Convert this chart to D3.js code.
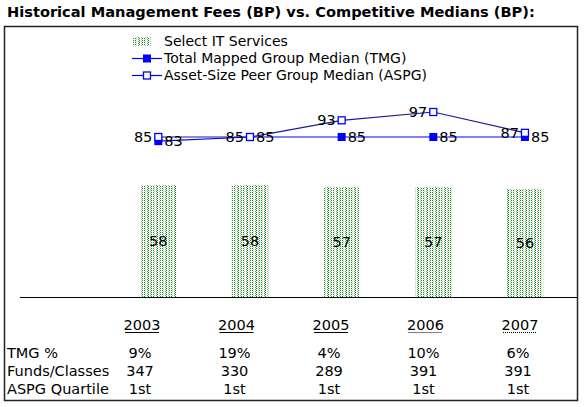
<!DOCTYPE html>
<html><head><meta charset="utf-8">
<script src="https://cdn.jsdelivr.net/npm/d3@7"></script>
<style>body{margin:0;background:#fff}svg{display:block}text{font-family:"DejaVu Sans",Verdana,sans-serif}</style>
</head><body><svg id="c" width="584" height="407"></svg>
<script>
const years = ["2003","2004","2005","2006","2007"];
const selectIT = [58,58,57,57,56];
const tmg = [83,85,85,85,85];
const aspg = [85,85,93,97,87];
const tmgPct = ["9%","19%","4%","10%","6%"];
const funds = ["347","330","289","391","391"];
const quartile = ["1st","1st","1st","1st","1st"];
const rowLabels = ["TMG %","Funds/Classes","ASPG Quartile"];
const seriesNames = ["Select IT Services","Total Mapped Group Median (TMG)","Asset-Size Peer Group Median (ASPG)"];
const title = "Historical Management Fees (BP) vs. Competitive Medians (BP):";

const svg = d3.select("#c");
const defs = svg.append("defs");
const pat = defs.append("pattern").attr("id","pat").attr("patternUnits","userSpaceOnUse")
  .attr("width",9).attr("height",4);
const cols = [["#0a8a0a",0,0],["#c8c8c8",1,1],["#40b040",3,1],["#087808",4,0],["#b0b0b0",6,1],["#1a9a1a",7,0]];
cols.forEach(([c,x,o])=>{
  pat.append("rect").attr("x",x).attr("y",o).attr("width",1).attr("height",1).attr("fill",c);
  pat.append("rect").attr("x",x).attr("y",o+2).attr("width",1).attr("height",1).attr("fill",c);
});

svg.append("text").attr("x",7).attr("y",17).attr("font-weight","bold").attr("font-size",14.6).text(title);
svg.append("rect").attr("x",4.5).attr("y",26.5).attr("width",573).attr("height",374)
  .attr("fill","none").attr("stroke","#222").attr("stroke-width",1.5);

const x = d3.scaleBand().domain(years).range([112.5,570.8]).paddingInner(0.6).paddingOuter(0.3);
const yBar = d3.scaleLinear().domain([0,58]).range([297,185]);
const yLine = d3.scaleLinear().domain([85,97]).range([137,112]);
const xt = d3.scalePoint().domain(years).range([142,520]);

// bars
const bars = svg.append("g");
bars.selectAll("rect").data(years).join("rect")
  .attr("x",d=>x(d)).attr("width",x.bandwidth())
  .attr("y",(d,i)=>yBar(selectIT[i])).attr("height",(d,i)=>yBar(0)-yBar(selectIT[i]))
  .attr("fill","url(#pat)");
bars.selectAll("text").data(years).join("text")
  .attr("x",d=>x(d)+x.bandwidth()/2).attr("y",(d,i)=>(yBar(selectIT[i])+yBar(0))/2+5)
  .attr("text-anchor","middle").attr("font-size",14.5).text((d,i)=>selectIT[i]);

svg.append("line").attr("x1",20).attr("x2",577).attr("y1",297.5).attr("y2",297.5).attr("stroke","#000");

const cx = d=>x(d)+x.bandwidth()/2;
// lines
const lineA = d3.line().x((d,i)=>cx(years[i])).y(d=>yLine(d));
svg.append("path").attr("d",lineA(aspg)).attr("fill","none").attr("stroke","#1a1a9a").attr("stroke-width",1.2);
svg.append("path").attr("d",lineA(tmg)).attr("fill","none").attr("stroke","#0000ff").attr("stroke-width",1.2);
svg.append("g").selectAll("rect").data(tmg).join("rect")
  .attr("x",(d,i)=>cx(years[i])-4).attr("y",d=>yLine(d)-4).attr("width",8).attr("height",8).attr("fill","#0000ff");
svg.append("g").selectAll("rect").data(aspg).join("rect")
  .attr("x",(d,i)=>cx(years[i])-3.5).attr("y",d=>yLine(d)-3.5).attr("width",7).attr("height",7)
  .attr("fill","#fff").attr("stroke","#0000ff").attr("stroke-width",1.3);
svg.append("g").selectAll("text").data(aspg).join("text")
  .attr("x",(d,i)=>cx(years[i])-6).attr("y",d=>yLine(d)+5).attr("text-anchor","end").attr("font-size",14.5).text(d=>d);
svg.append("g").selectAll("text").data(tmg).join("text")
  .attr("x",(d,i)=>cx(years[i])+6).attr("y",d=>yLine(d)+5).attr("text-anchor","start").attr("font-size",14.5).text(d=>d);

// legend
const lg = svg.append("g").attr("font-size",14);
lg.append("rect").attr("x",133).attr("y",37).attr("width",18).attr("height",9).attr("fill","url(#pat)");
[0,1,2].forEach(i=>{
  lg.append("text").attr("x",164).attr("y",46+i*17).text(seriesNames[i]);
});
lg.append("line").attr("x1",132).attr("x2",162).attr("y1",58.5).attr("y2",58.5).attr("stroke","#0000ff").attr("stroke-width",1.2);
lg.append("rect").attr("x",143).attr("y",54.5).attr("width",8).attr("height",8).attr("fill","#0000ff");
lg.append("line").attr("x1",132).attr("x2",162).attr("y1",75.5).attr("y2",75.5).attr("stroke","#0000ff").attr("stroke-width",1.2);
lg.append("rect").attr("x",143.5).attr("y",72).attr("width",7).attr("height",7).attr("fill","#fff").attr("stroke","#0000ff").attr("stroke-width",1.3);

// table
const tb = svg.append("g").attr("font-size",14.5);
tb.selectAll("text.yr").data(years).join("text").attr("class","yr")
  .attr("x",d=>xt(d)).attr("y",330).attr("text-anchor","middle").text(d=>d);
tb.selectAll("line.ul").data(years).join("line").attr("class","ul")
  .attr("x1",d=>xt(d)-17).attr("x2",d=>xt(d)+17).attr("y1",332.5).attr("y2",332.5)
  .attr("stroke","#000").attr("stroke-dasharray",(d,i)=>i>2?"1,1":null);
const rows = [tmgPct,funds,quartile];
rows.forEach((r,j)=>{
  tb.append("text").attr("x",7).attr("y",358+j*18).text(rowLabels[j]);
  tb.selectAll("text.r"+j).data(r).join("text").attr("class","r"+j)
    .attr("x",(d,i)=>xt(years[i])-2).attr("y",358+j*18).attr("text-anchor","middle").text(d=>d);
});
</script></body></html>
